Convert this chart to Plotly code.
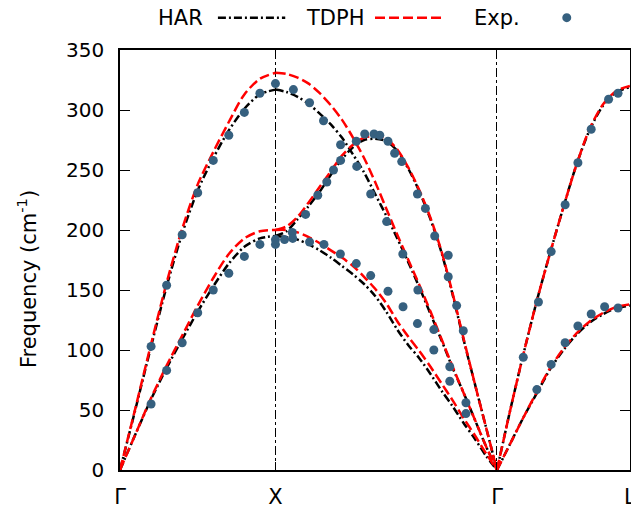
import plotly.graph_objects as go

# ---------------- data ----------------
# path positions of the high-symmetry points
tick_pos = [0.0, 1.0, 2.425, 3.28]
tick_labels = ["Γ", "X", "Γ", "L"]

# Γ -> X  (fraction of segment)
gx_frac = [0.0, 0.1, 0.2, 0.3, 0.4, 0.5, 0.6, 0.7, 0.8, 0.9, 1.0]
gx_LA_har = [0, 51, 103, 153, 197, 233, 260, 283, 301, 313, 317]
gx_LA_tdph = [0, 52, 105, 156, 201, 238, 265, 290, 313, 326, 331]
gx_TA_har = [0, 30, 59, 85, 109, 132, 153, 172, 186, 193, 195]
gx_TA_tdph = [0, 30, 60, 87, 112, 137, 160, 180, 193, 199, 200]

# X -> Γ
xg_frac = [0.0, 0.05, 0.1, 0.15, 0.2, 0.25, 0.3, 0.35, 0.4, 0.45, 0.5,
           0.55, 0.6, 0.65, 0.7, 0.75, 0.8, 0.85, 0.9, 0.95, 1.0]
xg_A_har = [317, 315, 311, 305, 297, 288, 277, 263, 248, 230, 212,
            193, 173, 152, 130, 108, 85, 64, 42, 20, 0]
xg_A_tdph = [331, 330, 327, 322, 314, 304, 292, 277, 260, 240, 218,
             196, 175, 154, 132, 109, 86, 64, 42, 20, 0]
xg_B_har = [195, 199, 209, 220, 232, 246, 259, 269, 275, 276, 274,
            266, 251, 232, 209, 181, 146, 108, 72, 36, 0]
xg_B_tdph = [200, 203, 211, 223, 236, 249, 262, 271, 277, 278, 276,
             267, 252, 233, 210, 182, 147, 109, 72, 36, 0]
xg_C_har = [195, 194, 192, 188, 183, 177, 170, 163, 155, 145, 132,
            117, 104, 93, 80, 66, 53, 39, 26, 12, 0]
xg_C_tdph = [200, 200, 198, 194, 189, 183, 177, 170, 161, 151, 139,
             124, 111, 99, 86, 72, 58, 43, 29, 14, 0]

# Γ -> L
gl_frac = [0.0, 0.1, 0.2, 0.3, 0.4, 0.5, 0.6, 0.7, 0.8, 0.9, 1.0]
gl_LA_har = [0, 50, 97, 141, 181, 219, 255, 284, 304, 315, 319]
gl_LA_tdph = [0, 50, 97, 141, 181, 219, 255, 285, 305, 316, 320]
gl_TA_har = [0, 22, 44, 64, 84, 100, 113, 123, 130, 135, 137]
gl_TA_tdph = [0, 22, 44, 65, 85, 101, 114, 124, 131, 136, 138]

# experimental points
exp_gx_frac = [0.2, 0.3, 0.4, 0.5, 0.6, 0.7, 0.8, 0.9, 1.0, 1.0]
exp_gx_LA = [103, 154, 196, 231, 258, 279, 298, 314, 322, None]
exp_gx_TA = [55, 83, 106, 131, 150, 164, 178, 188, 188, 192]

exp_xgA_frac = [0.081, 0.154, 0.217, 0.294, 0.367, 0.430, 0.502, 0.575,
                0.643, 0.715, 0.787, 0.860]
exp_xgA = [317, 306, 291, 271, 253, 230, 207, 180, 150, 117, 86, 56]
exp_xgB_frac = [0.076, 0.136, 0.191, 0.232, 0.262, 0.294, 0.365, 0.403,
                0.445, 0.471, 0.508, 0.538, 0.570, 0.641, 0.677, 0.719,
                0.780, 0.780, 0.818, 0.848]
exp_xgB = [198, 213, 229, 240, 250, 258, 274, 280, 280, 279, 274, 264,
           257, 230, 218, 195, 179, 161, 137, 116]
exp_xgC_frac = [0.041, 0.078, 0.154, 0.219, 0.293, 0.365, 0.430, 0.508,
                0.576, 0.641, 0.715, 0.787, 0.860]
exp_xgC = [192, 193, 190, 188, 180, 172, 162, 149, 136, 122, 100, 74, 47]

exp_gl_LA_frac = [0.198, 0.312, 0.408, 0.513, 0.609, 0.709, 0.840, 0.911]
exp_gl_LA = [94, 140, 182, 221, 256, 284, 309, 314]
exp_gl_TA_frac = [0.300, 0.408, 0.513, 0.609, 0.709, 0.810, 0.911]
exp_gl_TA = [67, 88, 106, 120, 130, 136, 135]

# ---------------- helpers ----------------
seg_start = tick_pos[:3]
seg_len = [tick_pos[i + 1] - tick_pos[i] for i in range(3)]


def path_x(seg, fracs):
    return [seg_start[seg] + f * seg_len[seg] for f in fracs]


def join(branches):
    xs, ys = [], []
    for seg, fr, vals in branches:
        xs += path_x(seg, fr) + [None]
        ys += list(vals) + [None]
    return xs, ys


har_x, har_y = join([
    (0, gx_frac, gx_LA_har), (0, gx_frac, gx_TA_har),
    (1, xg_frac, xg_A_har), (1, xg_frac, xg_B_har), (1, xg_frac, xg_C_har),
    (2, gl_frac, gl_LA_har), (2, gl_frac, gl_TA_har),
])
tdph_x, tdph_y = join([
    (0, gx_frac, gx_LA_tdph), (0, gx_frac, gx_TA_tdph),
    (1, xg_frac, xg_A_tdph), (1, xg_frac, xg_B_tdph), (1, xg_frac, xg_C_tdph),
    (2, gl_frac, gl_LA_tdph), (2, gl_frac, gl_TA_tdph),
])

ex_x, ex_y = [], []
for seg, fr, vals in [
    (0, exp_gx_frac, exp_gx_LA), (0, exp_gx_frac, exp_gx_TA),
    (1, exp_xgA_frac, exp_xgA), (1, exp_xgB_frac, exp_xgB),
    (1, exp_xgC_frac, exp_xgC),
    (2, exp_gl_LA_frac, exp_gl_LA), (2, exp_gl_TA_frac, exp_gl_TA),
]:
    for xv, yv in zip(path_x(seg, fr), vals):
        if yv is not None:
            ex_x.append(xv)
            ex_y.append(yv)

BLACK_DASH = "8px,3px,2px,3px"
RED_DASH = "10px,4px"
PT_COLOR = "#36607f"
FONT = "DejaVu Sans"

fig = go.Figure()
fig.add_trace(go.Scatter(x=har_x, y=har_y, mode="lines", name="HAR",
                         line=dict(color="black", width=2.5, dash=BLACK_DASH,
                                   shape="spline", smoothing=0.8),
                         showlegend=False))
fig.add_trace(go.Scatter(x=tdph_x, y=tdph_y, mode="lines", name="TDPH",
                         line=dict(color="#ff0000", width=2.5, dash=RED_DASH,
                                   shape="spline", smoothing=0.8),
                         showlegend=False))
fig.add_trace(go.Scatter(x=ex_x, y=ex_y, mode="markers", name="Exp.",
                         marker=dict(color=PT_COLOR, size=9, line=dict(width=0)),
                         showlegend=False))

# manual gnuplot-style key (text left of sample)
ly = 1.077
anns = []
for txt, xr in [("HAR", 0.167), ("TDPH", 0.482), ("Exp.", 0.788)]:
    anns.append(dict(text=txt, x=xr, y=ly, xref="paper", yref="paper",
                     xanchor="right", yanchor="middle", showarrow=False,
                     font=dict(family=FONT, size=21, color="black")))
# y-axis title (gnuplot places it slightly below centre)
anns.append(dict(text="Frequency (cm<sup>-1</sup>)", x=-0.182, y=0.455,
                 xref="paper", yref="paper", textangle=-90,
                 xanchor="center", yanchor="middle", showarrow=False,
                 font=dict(family=FONT, size=21, color="black")))
shapes = [
    dict(type="line", xref="paper", yref="paper", x0=0.192, x1=0.324,
         y0=ly, y1=ly, line=dict(color="black", width=2.5, dash=BLACK_DASH)),
    dict(type="line", xref="paper", yref="paper", x0=0.500, x1=0.633,
         y0=ly, y1=ly, line=dict(color="#ff0000", width=2.5, dash=RED_DASH)),
    dict(type="circle", xref="paper", yref="paper", x0=0.876 - 0.0088,
         x1=0.876 + 0.0088, y0=ly - 0.0107, y1=ly + 0.0107,
         fillcolor=PT_COLOR, line=dict(width=0)),
]

fig.update_layout(
    width=631, height=509,
    margin=dict(l=120, r=1, t=50, b=39, autoexpand=False),
    paper_bgcolor="white", plot_bgcolor="white",
    font=dict(family=FONT, size=20, color="black"),
    annotations=anns, shapes=shapes,
    showlegend=False,
)
fig.update_xaxes(
    range=[tick_pos[0], tick_pos[-1] + 0.0008], tickmode="array",
    tickvals=tick_pos, ticktext=tick_labels, automargin=False,
    ticklabeloverflow="allow",
    showline=True, linecolor="black", linewidth=1.5, mirror="allticks",
    ticks="inside", ticklen=8, tickwidth=1.2, tickcolor="black",
    showgrid=True, gridcolor="black", gridwidth=1, griddash="dashdot",
    zeroline=False, ticklabelstandoff=7,
    tickfont=dict(family=FONT, size=21),
)
fig.update_yaxes(
    range=[0, 350], tickmode="array", automargin=False,
    tickvals=[0, 50, 100, 150, 200, 250, 300, 350],
    showline=True, linecolor="black", linewidth=1.5, mirror="allticks",
    ticks="inside", ticklen=10, tickwidth=1.2, tickcolor="black",
    showgrid=False, zeroline=False, ticklabelstandoff=10,
    tickfont=dict(family=FONT, size=20),
)

fig.write_html("out.html")
